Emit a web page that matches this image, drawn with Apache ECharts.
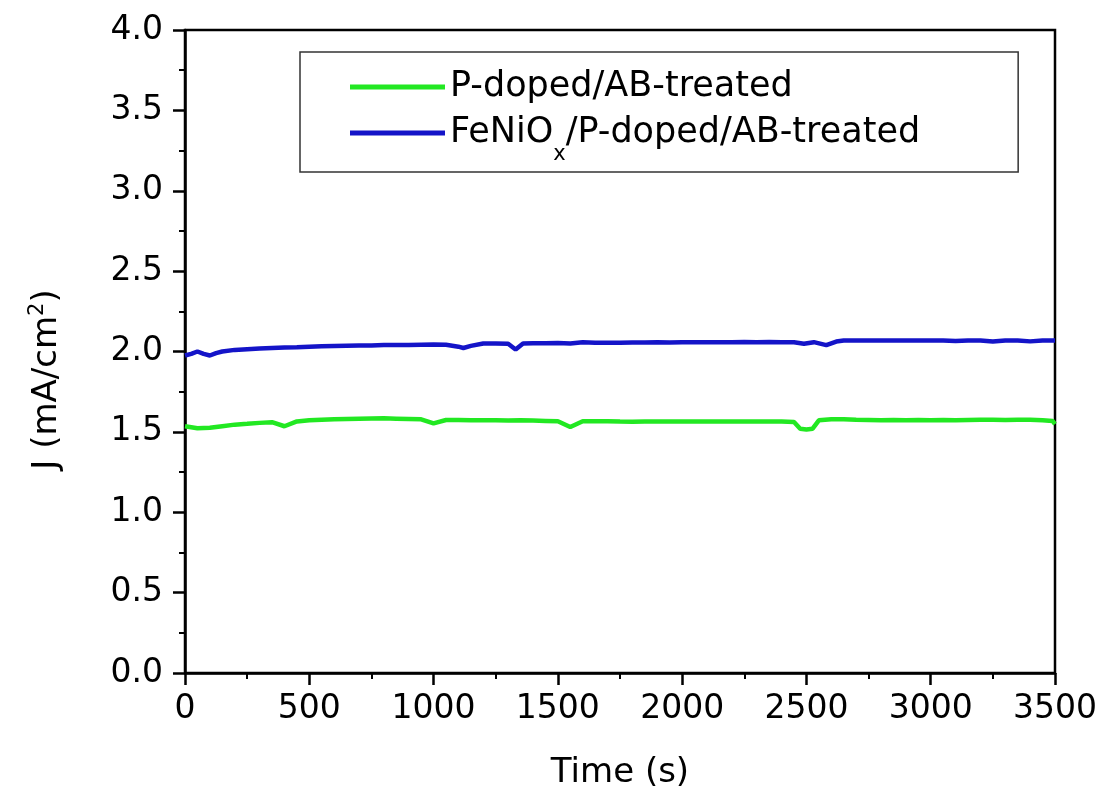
<!DOCTYPE html>
<html><head><meta charset="utf-8">
<script src="https://cdn.jsdelivr.net/npm/echarts@6/dist/echarts.min.js"></script>
<style>html,body{margin:0;padding:0;background:#fff}#c{width:1104px;height:803px}</style>
</head><body><div id="c"></div>
<script>
const seriesNames = ['P-doped/AB-treated', 'FeNiOx/P-doped/AB-treated'];
const greenTime = [0,50,100,150,200,250,300,350,400,450,500,550,600,650,700,750,800,850,900,950,1000,1050,1100,1150,1200,1250,1300,1350,1400,1450,1500,1550,1600,1650,1700,1750,1800,1850,1900,1950,2000,2050,2100,2150,2200,2250,2300,2350,2400,2450,2475,2500,2525,2550,2600,2650,2700,2750,2800,2850,2900,2950,3000,3050,3100,3150,3200,3250,3300,3350,3400,3450,3490,3500];
const greenJ = [1.535,1.522,1.525,1.535,1.545,1.550,1.556,1.560,1.535,1.565,1.572,1.575,1.578,1.580,1.582,1.583,1.584,1.582,1.580,1.578,1.553,1.574,1.574,1.573,1.572,1.572,1.571,1.572,1.570,1.568,1.566,1.530,1.566,1.566,1.566,1.564,1.563,1.565,1.564,1.565,1.564,1.565,1.564,1.565,1.564,1.565,1.565,1.564,1.565,1.562,1.520,1.515,1.520,1.572,1.578,1.578,1.575,1.574,1.573,1.574,1.573,1.574,1.573,1.574,1.573,1.574,1.575,1.575,1.574,1.575,1.575,1.573,1.568,1.548];
const blueTime = [0,25,50,75,100,125,150,200,250,300,350,400,450,500,550,600,650,700,750,800,850,900,950,1000,1050,1100,1120,1150,1200,1250,1300,1330,1360,1400,1450,1500,1550,1600,1650,1700,1750,1800,1850,1900,1950,2000,2050,2100,2150,2200,2250,2300,2350,2400,2450,2490,2530,2580,2620,2650,2700,2750,2800,2850,2900,2950,3000,3050,3100,3150,3200,3250,3300,3350,3400,3450,3500];
const blueJ = [1.975,1.985,2.000,1.985,1.975,1.990,2.000,2.010,2.014,2.018,2.022,2.025,2.027,2.030,2.032,2.034,2.036,2.038,2.038,2.040,2.040,2.041,2.042,2.043,2.042,2.030,2.022,2.035,2.050,2.050,2.048,2.012,2.050,2.052,2.052,2.053,2.050,2.058,2.055,2.054,2.055,2.056,2.056,2.057,2.056,2.057,2.058,2.057,2.058,2.058,2.059,2.058,2.059,2.058,2.057,2.048,2.058,2.040,2.062,2.068,2.068,2.069,2.068,2.069,2.068,2.069,2.068,2.069,2.066,2.069,2.068,2.062,2.069,2.068,2.063,2.069,2.068];
const xTicks = {min: 0, max: 3500, interval: 500};
const yTicks = {min: 0, max: 4, interval: 0.5};

const FONT = 'DejaVu Sans';
const zip = (t, v) => t.map((x, i) => [x, v[i]]);
const chart = echarts.init(document.getElementById('c'), null, {renderer: 'canvas'});
const axisCommon = {
  axisLine: {show: true, onZero: false, lineStyle: {color: '#000', width: 2.5}},
  axisTick: {show: true, inside: false, length: 12, lineStyle: {color: '#000', width: 2.5}},
  minorTick: {show: true, splitNumber: 2, length: 6, lineStyle: {color: '#000', width: 2}},
  splitLine: {show: false},
  axisLabel: {color: '#000', fontFamily: FONT, fontSize: 33}
};
chart.setOption({
  animation: false,
  backgroundColor: '#fff',
  grid: {left: 185, right: 49, top: 30, bottom: 130, show: true, borderColor: '#000', borderWidth: 2.5},
  legend: {
    orient: 'vertical', left: 300, top: 52,
    padding: [12, 98, 7, 50],
    borderColor: '#333', borderWidth: 1.5,
    itemGap: 0, itemWidth: 95, itemHeight: 5, icon: 'rect',
    data: seriesNames,
    formatter: n => n === seriesNames[1] ? '{a|FeNiO}{sub|x}{a|/P-doped/AB-treated}' : '{a|' + n + '}',
    textStyle: {
      color: '#000', fontFamily: FONT, fontSize: 35, lineHeight: 46,
      rich: {
        a: {color: '#000', fontFamily: FONT, fontSize: 35, lineHeight: 46},
        sub: {color: '#000', fontFamily: FONT, fontSize: 21, lineHeight: 14, verticalAlign: 'top', padding: [34, 0, 0, 0]}
      }
    }
  },
  xAxis: Object.assign({}, axisCommon, {
    type: 'value', min: xTicks.min, max: xTicks.max, interval: xTicks.interval,
    name: 'Time (s)', nameLocation: 'middle', nameGap: 83,
    nameTextStyle: {color: '#000', fontFamily: FONT, fontSize: 34},
    axisLabel: Object.assign({}, axisCommon.axisLabel, {margin: 20, formatter: v => String(v)})
  }),
  yAxis: Object.assign({}, axisCommon, {
    type: 'value', min: yTicks.min, max: yTicks.max, interval: yTicks.interval,
    name: '{a|J (mA/cm}{sup|2}{a|)}', nameLocation: 'middle', nameGap: 118, nameRotate: 90,
    nameTextStyle: {
      color: '#000', fontFamily: FONT, fontSize: 34, padding: [0, 56, 0, 0],
      rich: {
        a: {color: '#000', fontFamily: FONT, fontSize: 34, lineHeight: 40},
        sup: {color: '#000', fontFamily: FONT, fontSize: 21, lineHeight: 16, verticalAlign: 'top'}
      }
    },
    axisLabel: Object.assign({}, axisCommon.axisLabel, {margin: 22, formatter: v => v.toFixed(1)})
  }),
  series: [
    {name: seriesNames[0], type: 'line', data: zip(greenTime, greenJ), showSymbol: false, symbol: 'none',
     lineStyle: {color: '#22e822', width: 4.5}, itemStyle: {color: '#22e822'}},
    {name: seriesNames[1], type: 'line', data: zip(blueTime, blueJ), showSymbol: false, symbol: 'none',
     lineStyle: {color: '#1414c8', width: 4.5}, itemStyle: {color: '#1414c8'}}
  ]
});
</script></body></html>
